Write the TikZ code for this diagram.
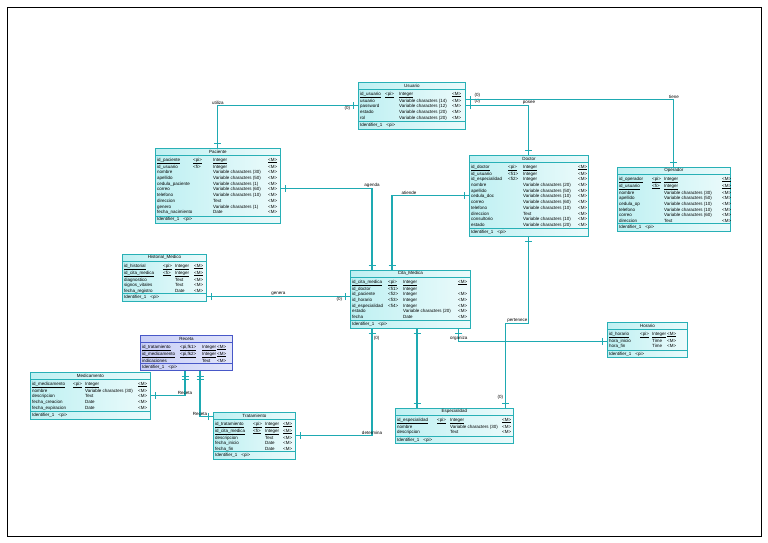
\documentclass[tikz,border=0pt]{standalone}
\usepackage{fontspec}
\setmainfont{Liberation Sans}
\usetikzlibrary{positioning,decorations.markings}
\definecolor{tabline}{RGB}{40,176,182}
\definecolor{linkc}{RGB}{30,170,178}
\definecolor{tabfill}{RGB}{190,240,242}
\definecolor{recline}{RGB}{72,88,200}
\definecolor{recfill}{RGB}{200,206,246}
\newcommand\keyu[1]{\underline{#1}}

\begin{document}
\begin{tikzpicture}[x=1pt,y=-1pt,
  tbl/.style={draw=tabline,line width=0.8pt,anchor=north west,inner sep=0pt,left color=tabfill,right color=tabfill!30},
  sel/.style={tbl,draw=recline,left color=recfill,right color=recfill!55},
  sepline/.style={draw=tabline,line width=0.5pt},
  ttl/.style={inner sep=0pt,font=\fontsize{4.5}{5}\selectfont},
  body/.style={anchor=north west,inner sep=0pt,font=\fontsize{4.5}{5.7}\selectfont},
  idrow/.style={anchor=west,inner sep=0pt,font=\fontsize{4.5}{5}\selectfont},
  link/.style={draw=linkc,line width=1.1pt},
  lbl/.style={inner sep=0.6pt,anchor=south,font=\fontsize{4.5}{5}\selectfont},
  ends/.style={postaction={decorate,decoration={markings,
    mark=at position 5pt with {\draw[linkc,line width=0.8pt] (0,-3.5pt) -- (0,3.5pt);},
    mark=at position -5pt with {\draw[linkc,line width=0.8pt] (0,-3.5pt) -- (0,3.5pt);}}}},
  rends/.style={postaction={decorate,decoration={markings,
    mark=at position 5pt with {\draw[linkc,line width=0.8pt] (0,-3.5pt) -- (0,3.5pt);},
    mark=at position 8pt with {\draw[linkc,line width=0.8pt] (0,-3.5pt) -- (0,3.5pt);},
    mark=at position -5pt with {\draw[linkc,line width=0.8pt] (0,-3.5pt) -- (0,3.5pt);}}}}]
  \useasboundingbox (0,0) rectangle (768,543);
  \draw[line width=0.5pt] (7,7) rectangle (761,536);

  % Usuario
  \node[tbl,minimum width=107pt,minimum height=46.5pt] (usuario) at (358,82) {};
  \node[ttl] at ([yshift=-3.5pt]usuario.north) {Usuario};
  \draw[sepline] ([yshift=-7pt]usuario.north west) -- ([yshift=-7pt]usuario.north east);
  \node[body] at ([xshift=2pt,yshift=-9pt]usuario.north west) {\begin{tabular}{@{}p{25pt}@{}p{14pt}@{}p{53pt}@{}l@{}}
    \keyu{id\_usuario} & \keyu{<pi>} & \keyu{Integer} & \keyu{<M>}\\
    usuario & & Variable characters (14) & <M>\\
    password & & Variable characters (12) & <M>\\
    estado & & Variable characters (20) & <M>\\
    rol & & Variable characters (20) & <M>
  \end{tabular}};
  \draw[sepline] ([yshift=8pt]usuario.south west) -- ([yshift=8pt]usuario.south east);
  \node[idrow] at ([xshift=2pt,yshift=4pt]usuario.south west) {Identifier\_1\hspace{4pt}<pi>};

  % Paciente
  \node[tbl,minimum width=125pt,minimum height=75pt] (paciente) at (155,148) {};
  \node[ttl] at ([yshift=-3.5pt]paciente.north) {Paciente};
  \draw[sepline] ([yshift=-7pt]paciente.north west) -- ([yshift=-7pt]paciente.north east);
  \node[body] at ([xshift=2pt,yshift=-9pt]paciente.north west) {\begin{tabular}{@{}p{36pt}@{}p{20pt}@{}p{55pt}@{}l@{}}
    \keyu{id\_paciente} & \keyu{<pi>} & \keyu{Integer} & \keyu{<M>}\\
    id\_usuario & <fi> & Integer & <M>\\
    nombre & & Variable characters (30) & <M>\\
    apellido & & Variable characters (50) & <M>\\
    cedula\_paciente & & Variable characters (1) & <M>\\
    correo & & Variable characters (60) & <M>\\
    telefono & & Variable characters (10) & <M>\\
    direccion & & Text & <M>\\
    genero & & Variable characters (1) & <M>\\
    fecha\_nacimiento & & Date & <M>
  \end{tabular}};
  \draw[sepline] ([yshift=8pt]paciente.south west) -- ([yshift=8pt]paciente.south east);
  \node[idrow] at ([xshift=2pt,yshift=4pt]paciente.south west) {Identifier\_1\hspace{4pt}<pi>};

  % Doctor
  \node[tbl,minimum width=119pt,minimum height=80.7pt] (doctor) at (469,155) {};
  \node[ttl] at ([yshift=-3.5pt]doctor.north) {Doctor};
  \draw[sepline] ([yshift=-7pt]doctor.north west) -- ([yshift=-7pt]doctor.north east);
  \node[body] at ([xshift=2pt,yshift=-9pt]doctor.north west) {\begin{tabular}{@{}p{37pt}@{}p{15pt}@{}p{55pt}@{}l@{}}
    \keyu{id\_doctor} & \keyu{<pi>} & \keyu{Integer} & \keyu{<M>}\\
    id\_usuario & <fi1> & Integer & <M>\\
    id\_especialidad & <fi2> & Integer & <M>\\
    nombre & & Variable characters (20) & <M>\\
    apellido & & Variable characters (50) & <M>\\
    cedula\_doc & & Variable characters (10) & <M>\\
    correo & & Variable characters (60) & <M>\\
    telefono & & Variable characters (10) & <M>\\
    direccion & & Text & <M>\\
    consultorio & & Variable characters (10) & <M>\\
    estado & & Variable characters (20) & <M>
  \end{tabular}};
  \draw[sepline] ([yshift=8pt]doctor.south west) -- ([yshift=8pt]doctor.south east);
  \node[idrow] at ([xshift=2pt,yshift=4pt]doctor.south west) {Identifier\_1\hspace{4pt}<pi>};

  % Operador
  \node[tbl,minimum width=113pt,minimum height=63.6pt] (operador) at (617,167) {};
  \node[ttl] at ([yshift=-3.5pt]operador.north) {Operador};
  \draw[sepline] ([yshift=-7pt]operador.north west) -- ([yshift=-7pt]operador.north east);
  \node[body] at ([xshift=2pt,yshift=-9pt]operador.north west) {\begin{tabular}{@{}p{33pt}@{}p{12pt}@{}p{58pt}@{}l@{}}
    \keyu{id\_operador} & \keyu{<pi>} & \keyu{Integer} & \keyu{<M>}\\
    \keyu{id\_usuario} & \keyu{<fi>} & \keyu{Integer} & \keyu{<M>}\\
    nombre & & Variable characters (30) & <M>\\
    apellido & & Variable characters (50) & <M>\\
    cedula\_op & & Variable characters (10) & <M>\\
    telefono & & Variable characters (10) & <M>\\
    correo & & Variable characters (60) & <M>\\
    direccion & & Text & <M>
  \end{tabular}};
  \draw[sepline] ([yshift=8pt]operador.south west) -- ([yshift=8pt]operador.south east);
  \node[idrow] at ([xshift=2pt,yshift=4pt]operador.south west) {Identifier\_1\hspace{4pt}<pi>};

  % Historial_Medico
  \node[tbl,minimum width=84pt,minimum height=46.5pt] (historial) at (122,254) {};
  \node[ttl] at ([yshift=-3.5pt]historial.north) {Historial\_Medico};
  \draw[sepline] ([yshift=-7pt]historial.north west) -- ([yshift=-7pt]historial.north east);
  \node[body] at ([xshift=2pt,yshift=-9pt]historial.north west) {\begin{tabular}{@{}p{39pt}@{}p{12pt}@{}p{19pt}@{}l@{}}
    \keyu{id\_historial} & \keyu{<pi>} & \keyu{Integer} & \keyu{<M>}\\
    \keyu{id\_cita\_medica} & \keyu{<fi>} & \keyu{Integer} & \keyu{<M>}\\
    diagnostico & & Text & <M>\\
    signos\_vitales & & Text & <M>\\
    fecha\_registro & & Date & <M>
  \end{tabular}};
  \draw[sepline] ([yshift=8pt]historial.south west) -- ([yshift=8pt]historial.south east);
  \node[idrow] at ([xshift=2pt,yshift=4pt]historial.south west) {Identifier\_1\hspace{4pt}<pi>};

  % Cita_Medica
  \node[tbl,minimum width=120pt,minimum height=57.9pt] (cita) at (350,270) {};
  \node[ttl] at ([yshift=-3.5pt]cita.north) {Cita\_Medica};
  \draw[sepline] ([yshift=-7pt]cita.north west) -- ([yshift=-7pt]cita.north east);
  \node[body] at ([xshift=2pt,yshift=-9pt]cita.north west) {\begin{tabular}{@{}p{36pt}@{}p{15pt}@{}p{55pt}@{}l@{}}
    \keyu{id\_cita\_medica} & \keyu{<pi>} & \keyu{Integer} & \keyu{<M>}\\
    id\_doctor & <fi1> & Integer & \\
    id\_paciente & <fi2> & Integer & <M>\\
    id\_horario & <fi3> & Integer & <M>\\
    id\_especialidad & <fi4> & Integer & <M>\\
    estado & & Variable characters (20) & <M>\\
    fecha & & Date & <M>
  \end{tabular}};
  \draw[sepline] ([yshift=8pt]cita.south west) -- ([yshift=8pt]cita.south east);
  \node[idrow] at ([xshift=2pt,yshift=4pt]cita.south west) {Identifier\_1\hspace{4pt}<pi>};

  % Receta
  \node[sel,minimum width=92pt,minimum height=35.1pt] (receta) at (140,335) {};
  \node[ttl] at ([yshift=-3.5pt]receta.north) {Receta};
  \draw[sepline,draw=recline] ([yshift=-7pt]receta.north west) -- ([yshift=-7pt]receta.north east);
  \node[body] at ([xshift=2pt,yshift=-9pt]receta.north west) {\begin{tabular}{@{}p{38pt}@{}p{22pt}@{}p{15pt}@{}l@{}}
    \keyu{id\_tratamiento} & \keyu{<pi,fk1>} & \keyu{Integer} & \keyu{<M>}\\
    \keyu{id\_medicamento} & \keyu{<pi,fk2>} & \keyu{Integer} & \keyu{<M>}\\
    indicaciones & & Text & <M>
  \end{tabular}};
  \draw[sepline,draw=recline] ([yshift=8pt]receta.south west) -- ([yshift=8pt]receta.south east);
  \node[idrow] at ([xshift=2pt,yshift=4pt]receta.south west) {Identifier\_1\hspace{4pt}<pi>};

  % Medicamento
  \node[tbl,minimum width=120pt,minimum height=46.5pt] (medicamento) at (30,372) {};
  \node[ttl] at ([yshift=-3.5pt]medicamento.north) {Medicamento};
  \draw[sepline] ([yshift=-7pt]medicamento.north west) -- ([yshift=-7pt]medicamento.north east);
  \node[body] at ([xshift=2pt,yshift=-9pt]medicamento.north west) {\begin{tabular}{@{}p{41pt}@{}p{12pt}@{}p{53pt}@{}l@{}}
    \keyu{id\_medicamento} & \keyu{<pi>} & \keyu{Integer} & \keyu{<M>}\\
    nombre & & Variable characters (30) & <M>\\
    descripcion & & Text & <M>\\
    fecha\_creacion & & Date & <M>\\
    fecha\_expiracion & & Date & <M>
  \end{tabular}};
  \draw[sepline] ([yshift=8pt]medicamento.south west) -- ([yshift=8pt]medicamento.south east);
  \node[idrow] at ([xshift=2pt,yshift=4pt]medicamento.south west) {Identifier\_1\hspace{4pt}<pi>};

  % Tratamiento
  \node[tbl,minimum width=82pt,minimum height=46.5pt] (tratamiento) at (213,412) {};
  \node[ttl] at ([yshift=-3.5pt]tratamiento.north) {Tratamiento};
  \draw[sepline] ([yshift=-7pt]tratamiento.north west) -- ([yshift=-7pt]tratamiento.north east);
  \node[body] at ([xshift=2pt,yshift=-9pt]tratamiento.north west) {\begin{tabular}{@{}p{38pt}@{}p{12pt}@{}p{18pt}@{}l@{}}
    \keyu{id\_tratamiento} & \keyu{<pi>} & \keyu{Integer} & \keyu{<M>}\\
    \keyu{id\_cita\_medica} & \keyu{<fi>} & \keyu{Integer} & \keyu{<M>}\\
    descripcion & & Text & <M>\\
    fecha\_inicio & & Date & <M>\\
    fecha\_fin & & Date & <M>
  \end{tabular}};
  \draw[sepline] ([yshift=8pt]tratamiento.south west) -- ([yshift=8pt]tratamiento.south east);
  \node[idrow] at ([xshift=2pt,yshift=4pt]tratamiento.south west) {Identifier\_1\hspace{4pt}<pi>};

  % Especialidad
  \node[tbl,minimum width=118pt,minimum height=35.1pt] (especialidad) at (395,408) {};
  \node[ttl] at ([yshift=-3.5pt]especialidad.north) {Especialidad};
  \draw[sepline] ([yshift=-7pt]especialidad.north west) -- ([yshift=-7pt]especialidad.north east);
  \node[body] at ([xshift=2pt,yshift=-9pt]especialidad.north west) {\begin{tabular}{@{}p{40pt}@{}p{13pt}@{}p{52pt}@{}l@{}}
    \keyu{id\_especialidad} & \keyu{<pi>} & \keyu{Integer} & \keyu{<M>}\\
    nombre & & Variable characters (30) & <M>\\
    descripcion & & Text & <M>
  \end{tabular}};
  \draw[sepline] ([yshift=8pt]especialidad.south west) -- ([yshift=8pt]especialidad.south east);
  \node[idrow] at ([xshift=2pt,yshift=4pt]especialidad.south west) {Identifier\_1\hspace{4pt}<pi>};

  % Horario
  \node[tbl,minimum width=80pt,minimum height=35.1pt] (horario) at (607,322) {};
  \node[ttl] at ([yshift=-3.5pt]horario.north) {Horario};
  \draw[sepline] ([yshift=-7pt]horario.north west) -- ([yshift=-7pt]horario.north east);
  \node[body] at ([xshift=2pt,yshift=-9pt]horario.north west) {\begin{tabular}{@{}p{31pt}@{}p{12pt}@{}p{15pt}@{}l@{}}
    \keyu{id\_horario} & \keyu{<pi>} & \keyu{Integer} & \keyu{<M>}\\
    hora\_inicio & & Time & <M>\\
    hora\_fin & & Time & <M>
  \end{tabular}};
  \draw[sepline] ([yshift=8pt]horario.south west) -- ([yshift=8pt]horario.south east);
  \node[idrow] at ([xshift=2pt,yshift=4pt]horario.south west) {Identifier\_1\hspace{4pt}<pi>};

  % references
  \draw[link,ends] (usuario.west) -| node[lbl]{utiliza} (paciente.north);
  \node[lbl,anchor=north east] at ([xshift=-7pt]usuario.west) {(0)};
  \draw[link,ends] (usuario.east) -| node[lbl]{posee} (doctor.north);
  \node[lbl,anchor=south west] at ([xshift=8pt,yshift=1pt]usuario.east) {(0)};
  \draw[link,ends] ([yshift=6pt]usuario.east) -| node[lbl]{tiene} (operador.north);
  \node[lbl,anchor=south west] at ([xshift=8pt,yshift=7pt]usuario.east) {(0)};
  \draw[link,ends] ([yshift=-2.5pt]paciente.east) -| node[lbl]{agenda} ([xshift=22pt]cita.north west);
  \draw[link,ends] (doctor.west) -| node[lbl,pos=0.39]{atiende} ([xshift=42pt]cita.north west);
  \draw[link,ends] ([yshift=-19pt]historial.east) -- node[lbl]{genera} ([yshift=-19pt]historial.east -| cita.west);
  \node[lbl,anchor=north east] at ([xshift=-7pt,yshift=-19pt]historial.east -| cita.west) {(0)};
  \draw[link,ends] ([xshift=22pt]cita.south west) |- node[lbl]{determina} (tratamiento.east);
  \node[lbl,anchor=north west] at ([xshift=23pt,yshift=-7pt]cita.south west) {(0)};
  \draw[link,ends] ([xshift=67pt]cita.south west) -- ([xshift=67pt]cita.south west |- especialidad.north);
  \draw[link,ends] ([yshift=-1.5pt]horario.west) -| node[lbl]{organiza} ([xshift=-12pt]cita.south east);
  \draw[link,ends] (doctor.south) -- ++(0,87) -| node[lbl,pos=0.25]{pertenece} ([xshift=-8pt]especialidad.north east);
  \node[lbl,anchor=east] at ([xshift=-10pt,yshift=11pt]especialidad.north east) {(0)};
  \draw[link,rends] ([xshift=45pt]receta.south west) |- node[lbl]{Receta} (medicamento.east);
  \draw[link,rends] ([xshift=60pt]receta.south west) |- node[lbl]{Receta} ([yshift=19pt]tratamiento.west);
\end{tikzpicture}
\end{document}
